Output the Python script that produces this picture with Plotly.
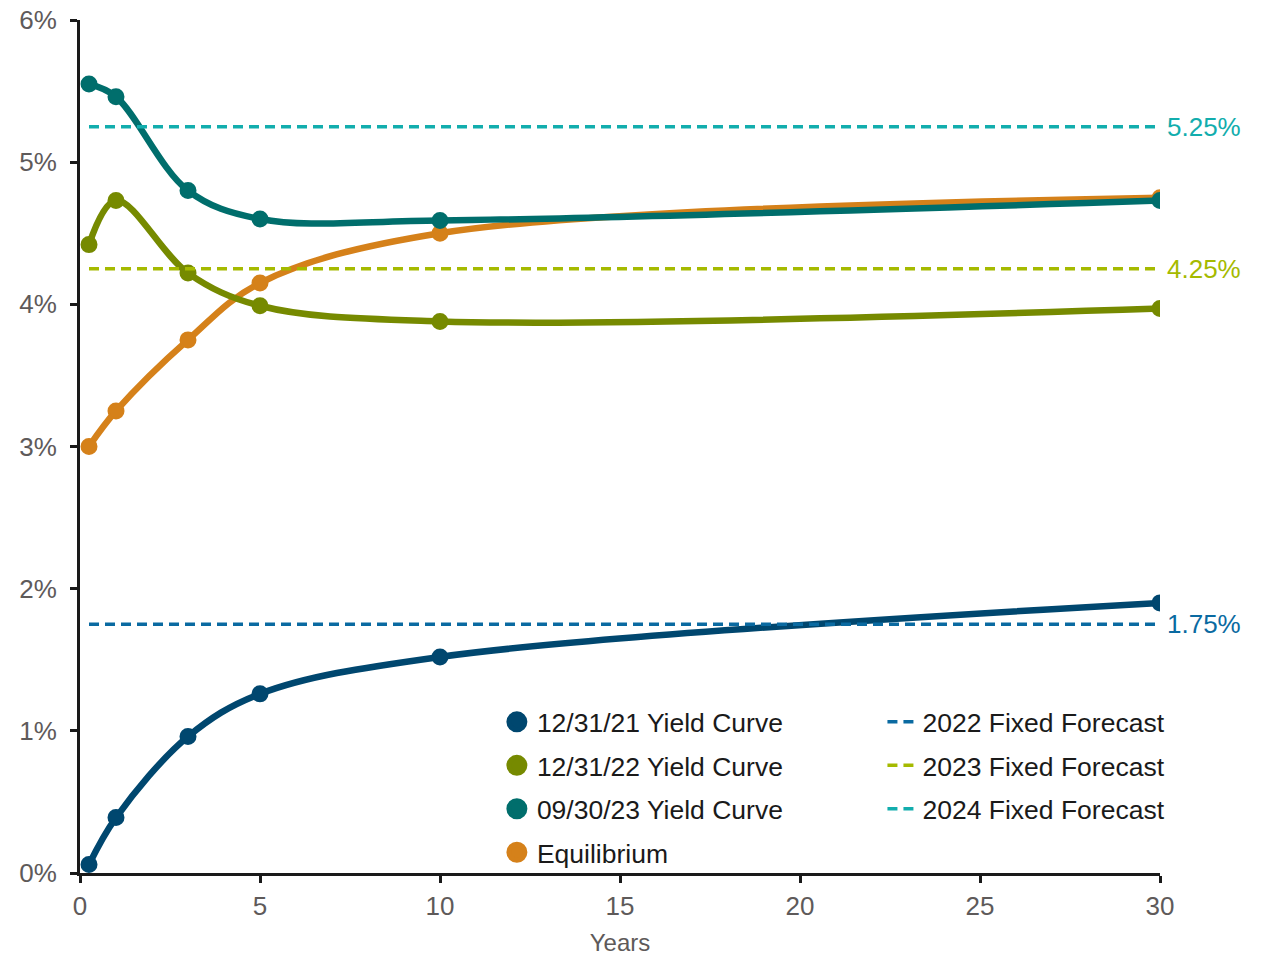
import plotly.graph_objects as go

# ---- data ----
maturities = [0.25, 1, 3, 5, 10, 30]
yc_2021 = [0.06, 0.39, 0.96, 1.26, 1.52, 1.90]
yc_2022 = [4.42, 4.73, 4.22, 3.99, 3.88, 3.97]
yc_2023 = [5.55, 5.46, 4.80, 4.60, 4.59, 4.73]
equilibrium = [3.00, 3.25, 3.75, 4.15, 4.50, 4.75]

forecast_x = [0.25, 30]
forecast_2022 = 1.75
forecast_2023 = 4.25
forecast_2024 = 5.25

x_ticks = [0, 5, 10, 15, 20, 25, 30]
y_ticks = [0, 1, 2, 3, 4, 5, 6]
y_tick_labels = ["0%", "1%", "2%", "3%", "4%", "5%", "6%"]

NAVY = "#00476f"
OLIVE = "#768a00"
TEAL = "#006e6c"
ORANGE = "#d5811a"
F22 = "#0a6aa1"
F23 = "#a5ba00"
F24 = "#12adad"
GRAY = "#5e5a5a"
FONT = "Liberation Sans, Arial, sans-serif"

fig = go.Figure()

def curve(y, color, name):
    fig.add_trace(go.Scatter(
        x=maturities, y=y, mode="lines+markers", name=name,
        line=dict(color=color, width=6.5, shape="spline", smoothing=1),
        marker=dict(color=color, size=15, line=dict(color=color, width=2)),
        showlegend=False, hoverinfo="x+y"))

# draw order: orange, navy, olive, teal
curve(equilibrium, ORANGE, "Equilibrium")
curve(yc_2021, NAVY, "12/31/21 Yield Curve")
curve(yc_2022, OLIVE, "12/31/22 Yield Curve")
curve(yc_2023, TEAL, "09/30/23 Yield Curve")

# forecast lines (on top)
for val, color, name in [(forecast_2022, F22, "2022 Fixed Forecast"),
                         (forecast_2023, F23, "2023 Fixed Forecast"),
                         (forecast_2024, F24, "2024 Fixed Forecast")]:
    fig.add_trace(go.Scatter(
        x=forecast_x, y=[val, val], mode="lines", name=name,
        line=dict(color=color, width=3.5, dash="10px,6px"),
        legend="legend2", legendgroup=name, showlegend=True))
    fig.add_annotation(x=forecast_x[-1], y=val, xref="x", yref="y",
                       text=f"{val:.2f}%", showarrow=False,
                       xanchor="left", yanchor="middle", xshift=5,
                       font=dict(family=FONT, size=26, color=color))

# legend-only marker entries
for color, name in [(NAVY, "12/31/21 Yield Curve"),
                    (OLIVE, "12/31/22 Yield Curve"),
                    (TEAL, "09/30/23 Yield Curve"),
                    (ORANGE, "Equilibrium")]:
    fig.add_trace(go.Scatter(
        x=[None], y=[None], mode="markers", name=name,
        marker=dict(color=color, size=16, line=dict(color=color, width=5)),
        legend="legend", legendgroup=name, showlegend=True))

legend_common = dict(font=dict(family=FONT, size=26.5, color="#1a1a1a"),
                     bgcolor="rgba(0,0,0,0)", borderwidth=0,
                     traceorder="grouped", tracegroupgap=6,
                     orientation="v", xanchor="left", yanchor="top")

fig.update_layout(
    width=1262, height=956,
    margin=dict(l=80, r=102, t=20, b=83, autoexpand=False),
    paper_bgcolor="white", plot_bgcolor="white",
    font=dict(family=FONT, size=26, color=GRAY),
    legend=dict(x=0.386, y=0.205, **legend_common),
    legend2=dict(x=0.743, y=0.205, **legend_common),
    xaxis=dict(range=[0, 30], tickvals=x_ticks, showgrid=False, zeroline=False,
               automargin=False,
               showline=True, linecolor="#1a1a1a", linewidth=3,
               ticks="outside", ticklen=7, tickwidth=3, tickcolor="#1a1a1a",
               tickfont=dict(family=FONT, size=26, color=GRAY),
               ticklabelstandoff=1,
               title=dict(text="Years", font=dict(family=FONT, size=24, color=GRAY),
                          standoff=21)),
    yaxis=dict(range=[0, 6], tickvals=y_ticks, ticktext=y_tick_labels,
               showgrid=False, zeroline=False, automargin=False,
               showline=True, linecolor="#1a1a1a", linewidth=3,
               ticks="outside", ticklen=7, tickwidth=3, tickcolor="#1a1a1a",
               tickfont=dict(family=FONT, size=26, color=GRAY),
               ticklabelstandoff=8),
)

fig.write_html("out.html")
